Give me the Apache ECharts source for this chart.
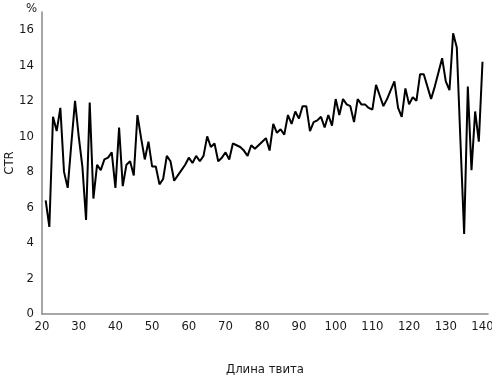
<!DOCTYPE html>
<html>
<head>
<meta charset="utf-8">
<script src="https://cdn.jsdelivr.net/npm/echarts@6/dist/echarts.min.js"></script>
<style>
  html, body { margin: 0; padding: 0; background: #fff; }
  #chart { width: 492px; height: 377px; }
</style>
</head>
<body>
<div id="chart"></div>
<script>
// длина твита (символы)
var lengths = [
  21, 22, 23, 24, 25, 26, 27, 28, 29, 30,
  31, 32, 33, 34, 35, 36, 37, 38, 39, 40,
  41, 42, 43, 44, 45, 46, 47, 48, 49, 50,
  51, 52, 53, 54, 55, 56, 57, 58, 59, 60,
  61, 62, 63, 64, 65, 66, 67, 68, 69, 70,
  71, 72, 73, 74, 75, 76, 77, 78, 79, 80,
  81, 82, 83, 84, 85, 86, 87, 88, 89, 90,
  91, 92, 93, 94, 95, 96, 97, 98, 99, 100,
  101, 102, 103, 104, 105, 106, 107, 108, 109, 110,
  111, 112, 113, 114, 115, 116, 117, 118, 119, 120,
  121, 122, 123, 124, 125, 126, 127, 128, 129, 130,
  131, 132, 133, 134, 135, 136, 137, 138, 139, 140
]

// CTR, %
var ctr = [
  6.4, 4.9, 11.1, 10.3, 11.6, 8.0, 7.1, 9.6, 12.0, 10.0,
  8.3, 5.3, 11.9, 6.5, 8.4, 8.1, 8.7, 8.8, 9.1, 7.1,
  10.5, 7.2, 8.4, 8.6, 7.8, 11.2, 9.9, 8.7, 9.7, 8.3,
  8.3, 7.3, 7.6, 8.9, 8.6, 7.5, 7.8, 8.1, 8.4, 8.8,
  8.5, 8.9, 8.6, 8.9, 10.0, 9.4, 9.6, 8.6, 8.8, 9.1,
  8.7, 9.6, 9.5, 9.4, 9.2, 8.9, 9.5, 9.3, 9.5, 9.7,
  9.9, 9.2, 10.7, 10.2, 10.4, 10.1, 11.2, 10.7, 11.4, 11.0,
  11.7, 11.7, 10.3, 10.8, 10.9, 11.1, 10.5, 11.2, 10.6, 12.1,
  11.2, 12.1, 11.8, 11.7, 10.8, 12.1, 11.8, 11.8, 11.6, 11.5,
  12.9, 12.3, 11.7, 12.1, 12.6, 13.1, 11.6, 11.1, 12.7, 11.8,
  12.2, 12.0, 13.5, 13.5, 12.8, 12.1, 12.8, 13.6, 14.4, 13.1,
  12.6, 15.8, 15.0, 9.7, 4.5, 12.8, 8.1, 11.4, 9.7, 14.2
]

var font = '"DejaVu Sans Condensed", "Liberation Sans Narrow", sans-serif'
var axisColor = '#8a8a8a'
var textColor = '#1a1a1a'

var chart = echarts.init(document.getElementById('chart'))

chart.setOption({
  animation: false,
  grid: {
    left: 42,
    right: 4,
    top: 12,
    bottom: 63,
    containLabel: false,
    outerBoundsMode: 'none'
  },
  graphic: [{
    type: 'text',
    left: 26,
    top: 2,
    style: {
      text: '%',
      font: '13px ' + font,
      fill: textColor
    }
  }],
  xAxis: {
    type: 'value',
    min: 20,
    max: 141.5,
    interval: 10,
    name: 'Длина твита',
    nameLocation: 'middle',
    nameGap: 49,
    nameMoveOverlap: false,
    nameTextStyle: {
      fontFamily: font,
      fontSize: 13,
      color: textColor
    },
    axisLine: {
      show: true,
      lineStyle: { color: axisColor, width: 1.5 }
    },
    axisTick: { show: false },
    splitLine: { show: false },
    axisLabel: {
      margin: 6,
      fontFamily: font,
      fontSize: 13,
      color: textColor,
      showMaxLabel: false
    }
  },
  yAxis: {
    type: 'value',
    min: 0,
    max: 17,
    interval: 2,
    name: 'CTR',
    nameLocation: 'middle',
    nameGap: 26,
    nameMoveOverlap: false,
    nameTextStyle: {
      fontFamily: font,
      fontSize: 13,
      color: textColor
    },
    axisLine: {
      show: true,
      lineStyle: { color: axisColor, width: 1.5 }
    },
    axisTick: { show: false },
    splitLine: { show: false },
    axisLabel: {
      margin: 8,
      fontFamily: font,
      fontSize: 13,
      color: textColor,
      showMaxLabel: false
    }
  },
  series: [{
    type: 'line',
    data: lengths.map(function (l, i) { return [l, ctr[i]] }),
    showSymbol: false,
    symbol: 'none',
    lineStyle: { color: '#000', width: 2 },
    silent: true
  }]
})
</script>
</body>
</html>
